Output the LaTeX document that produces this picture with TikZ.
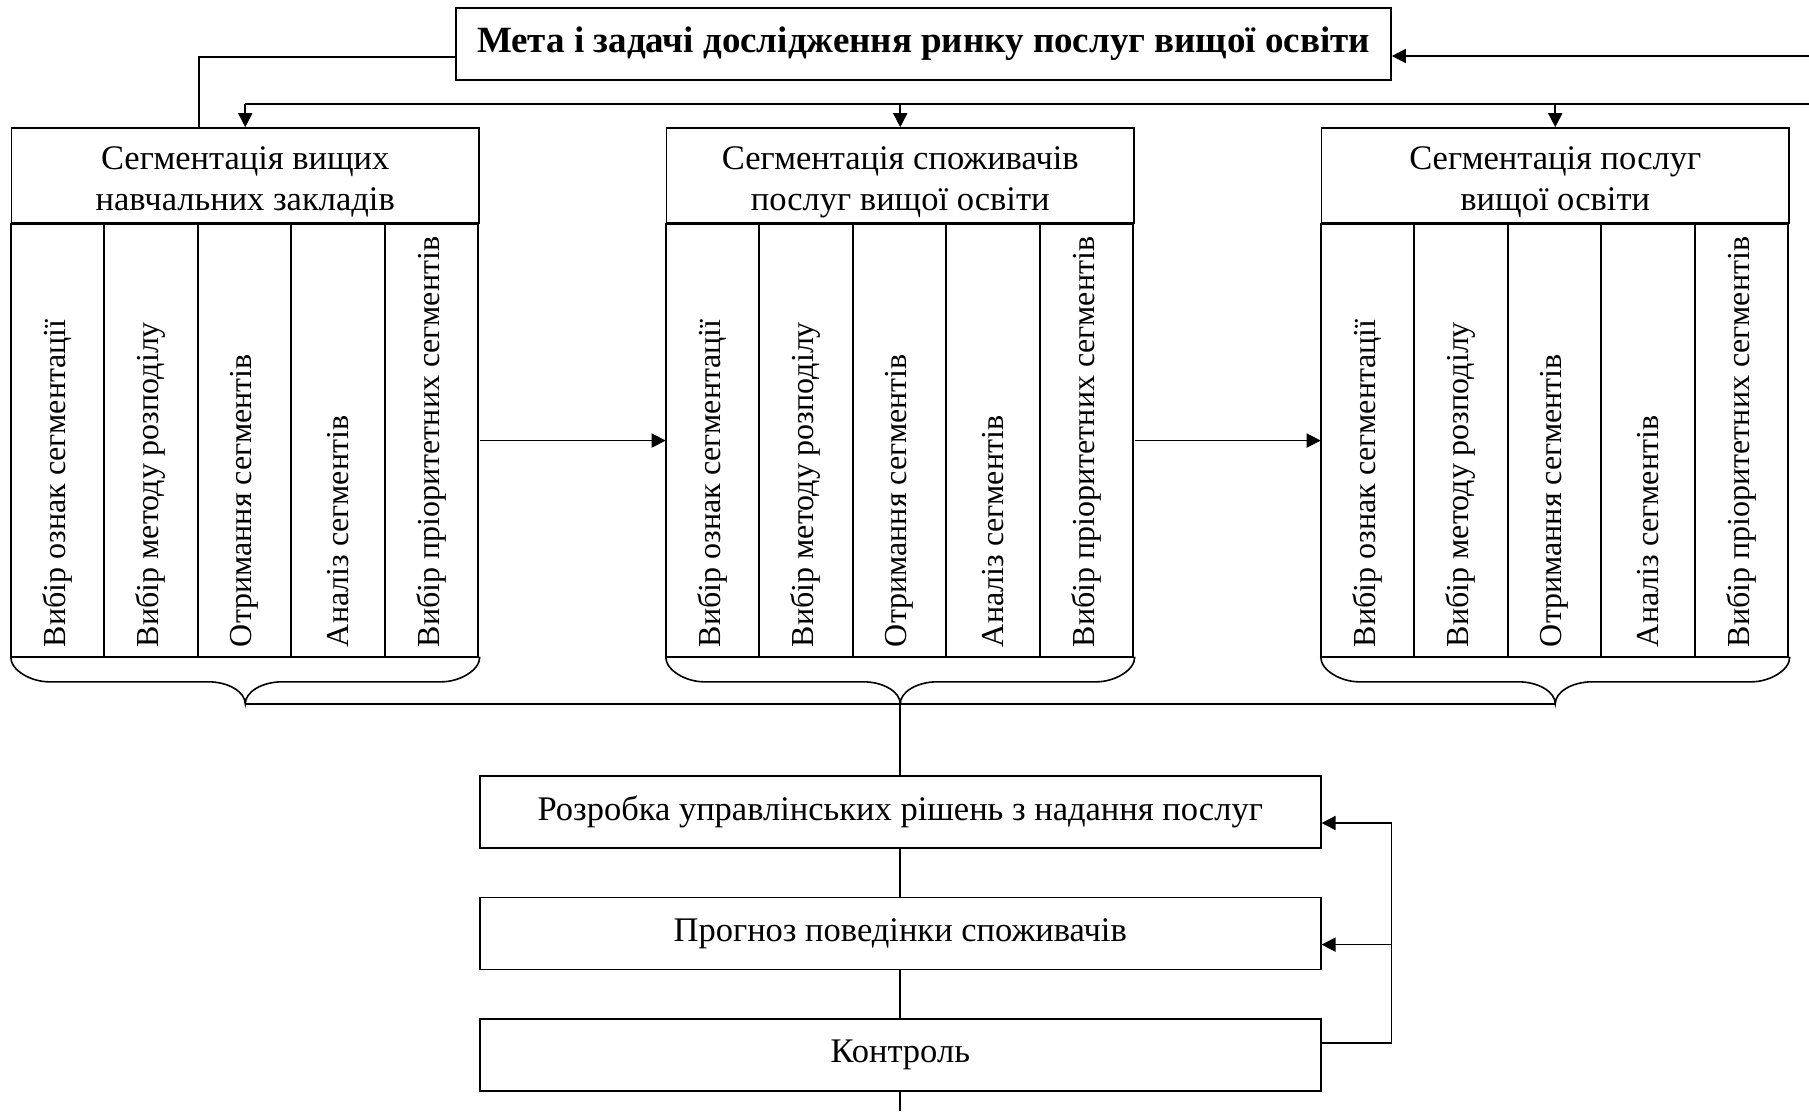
\documentclass[tikz,border=0pt]{standalone}
\usepackage{fontspec}
\setmainfont{Liberation Serif}
\usetikzlibrary{arrows.meta,calc,positioning}

\tikzset{
	box/.style={draw, line width=1.6pt, align=center, inner sep=0pt, font=\fontsize{34.5}{41}\selectfont},
	hdbox/.style={box, minimum width=467.5pt, minimum height=95pt, text height=77pt},
	colbox/.style={draw, line width=1.6pt, rotate=90, minimum height=93.5pt, text width=413pt, inner xsep=10pt, inner ysep=0pt, align=flush left, font=\fontsize{32}{38}\selectfont},
	stepbox/.style={box, minimum width=841pt, minimum height=72pt},
	arr/.style={-{Triangle[length=14pt,width=14pt]}},
}

\begin{document}
\begin{tikzpicture}[x=1pt, y=-1pt, line width=1.6pt]
	\useasboundingbox (0,0) rectangle (1809,1111);
	\node[box, font=\bfseries\fontsize{37}{44}\selectfont, minimum width=935pt, minimum height=72pt] (goal) at (923.5,44) {Мета і задачі дослідження ринку послуг вищої освіти};
	% segmentation blocks
	\node[hdbox] (seg1) at (245.25,175.5) {Сегментація вищих\\навчальних закладів};
	\node[hdbox] (seg2) at (900.25,175.5) {Сегментація споживачів\\послуг вищої освіти};
	\node[hdbox] (seg3) at (1555.25,175.5) {Сегментація послуг\\вищої освіти};
	\foreach \b in {1,2,3} {
		\foreach \t [count=\k] in {Вибір ознак сегментації, Вибір методу розподілу, Отримання сегментів, Аналіз сегментів, Вибір пріоритетних сегментів}
			\node[colbox] (c\b\k) at ($(seg\b.south west)+(93.5*\k-46.75,216.75)$) {\t};
		\coordinate (bl\b) at ($(seg\b.south west)+(0,433)$);
		\coordinate (br\b) at ($(seg\b.south east)+(0,433)$);
		\coordinate (tip\b) at ($(seg\b.south)+(0,480)$);
		\draw (bl\b) .. controls +(0,14) and +(-17,0) .. ($(bl\b)+(38,25)$)
			-- ($(tip\b)+(-37,-22)$) .. controls +(20,0) and +(0,-12) .. (tip\b)
			.. controls +(0,-12) and +(-20,0) .. ($(tip\b)+(37,-22)$)
			-- ($(br\b)+(-38,25)$) .. controls +(17,0) and +(0,14) .. (br\b);
	}
	\draw[arr] (c15.center -| seg1.east) -- (c21.center -| seg2.west);
	\draw[arr] (c25.center -| seg2.east) -- (c31.center -| seg3.west);
	% feedback to the goal
	\coordinate (fbtop) at (1809,56);
	\coordinate (fbin) at (1809,104);
	\draw[arr] (fbtop) -- (goal.east |- fbtop);
	\draw ($(goal.west)+(0,13)$) -| ($(seg1.north)+(-46,0)$);
	\draw (fbin) -- (seg1.north |- fbin);
	\foreach \b in {1,2,3}
		\draw[arr] (seg\b.north |- fbin) -- (seg\b.north);
	% decisions
	\node[stepbox] (plan) at (900.25,812) {Розробка управлінських рішень з надання послуг};
	\node[stepbox, below=48pt of plan] (forecast) {Прогноз поведінки споживачів};
	\node[stepbox, below=48pt of forecast] (control) {Контроль};
	\coordinate (out) at (900.25,1111);
	\draw (tip1) -- (tip3);
	\draw (tip2) -- (plan);
	\draw (plan) -- (forecast);
	\draw (forecast) -- (control);
	\draw (control) -- (out);
	\draw[arr] ($(control.east)+(0,-12)$) -- ++(70,0) |- ($(plan.east)+(0,11)$);
	\draw[arr] ($(forecast.east)+(70,11)$) -- ($(forecast.east)+(0,11)$);
\end{tikzpicture}
\end{document}
